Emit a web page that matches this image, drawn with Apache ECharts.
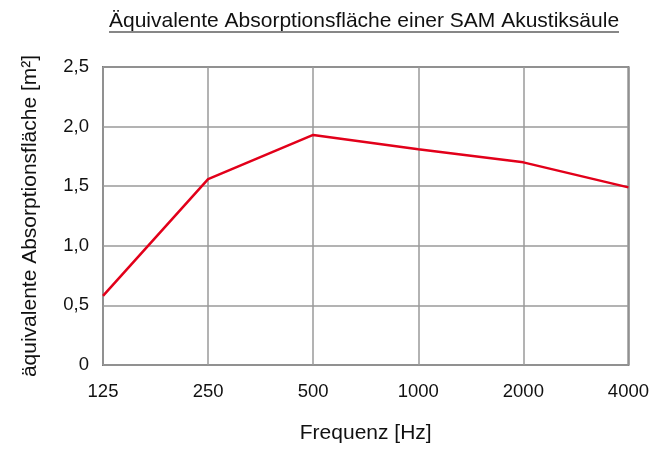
<!DOCTYPE html>
<html><head><meta charset="utf-8">
<script src="https://cdn.jsdelivr.net/npm/echarts@6/dist/echarts.min.js"></script>
<style>html,body{margin:0;padding:0;background:#fff}#c{width:652px;height:449px}</style>
</head><body><div id="c"></div>
<script>
const categories = ['125','250','500','1000','2000','4000'];
const values = [0.58, 1.56, 1.93, 1.81, 1.70, 1.49];
const yTicks = [0, 0.5, 1.0, 1.5, 2.0, 2.5];
const titleText = 'Äquivalente Absorptionsfläche einer SAM Akustiksäule';
const xName = 'Frequenz [Hz]';
const yName = 'äquivalente Absorptionsfläche [m²]';

const font = 'Liberation Sans, Arial, sans-serif';
const titleSize = 21;
const titleCx = 364;
// measure title width for the underline decoration
const cv = document.createElement('canvas').getContext('2d');
cv.font = titleSize + 'px ' + font;
const tw = cv.measureText(titleText).width;

const chart = echarts.init(document.getElementById('c'), null, {renderer:'canvas'});
chart.setOption({
  animation:false,
  backgroundColor:'#fff',
  graphic:[
    {type:'text',x:titleCx,y:21,style:{text:titleText,fontFamily:font,fontSize:titleSize,fill:'#111',align:'center',verticalAlign:'middle'}},
    {type:'line',shape:{x1:titleCx - tw/2,y1:32,x2:titleCx + tw/2,y2:32},style:{stroke:'#111',lineWidth:1.2}}
  ],
  grid:{left:103,right:23,top:67,bottom:82,show:true,borderColor:'#7a7a7a',borderWidth:2,backgroundColor:'transparent'},
  xAxis:{type:'category',data:categories,boundaryGap:false,
    name:xName,nameLocation:'middle',nameGap:58,nameTextStyle:{fontFamily:font,fontSize:21,color:'#111'},
    axisLine:{show:false},axisTick:{show:false},
    axisLabel:{fontFamily:font,fontSize:18.5,color:'#111',margin:17,interval:0},
    splitLine:{show:true,lineStyle:{color:'#9a9a9a',width:1.5}}},
  yAxis:{type:'value',min:0,max:2.5,interval:0.5,
    name:yName,nameLocation:'middle',nameGap:62,nameTextStyle:{fontFamily:font,fontSize:21,color:'#111'},
    axisLine:{show:false},axisTick:{show:false},
    axisLabel:{fontFamily:font,fontSize:18.5,color:'#111',margin:14,
      formatter:v=>{const t=yTicks.find(x=>Math.abs(x-v)<1e-9);return t===0?'0':t.toFixed(1).replace('.',',');}},
    splitLine:{show:true,lineStyle:{color:'#9a9a9a',width:1.5}}},
  series:[{type:'line',data:values,symbol:'none',lineStyle:{color:'#e2001a',width:2.5},z:5}]
});
</script></body></html>
